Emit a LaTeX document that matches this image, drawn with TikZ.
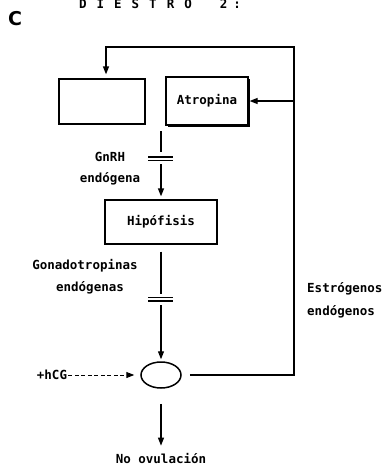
\documentclass[tikz,border=0pt]{standalone}
\usepackage{fontspec}
\setmonofont{DejaVu Sans Mono}
\setsansfont{DejaVu Sans}
\usetikzlibrary{positioning,arrows.meta,calc,shapes.geometric,shadows}

\begin{document}
\begin{tikzpicture}[
  x=1pt, y=-1pt,
  font=\ttfamily\bfseries\fontsize{12.5}{14}\selectfont,
  >={Triangle[length=8pt,width=6pt]},
  box/.style={draw, line width=1.3pt, inner sep=0pt},
  shbox/.style={box, fill=white, drop shadow={shadow xshift=2.2pt, shadow yshift=-2.2pt, fill=black, opacity=1}},
  flow/.style={->, draw, line width=1.3pt},
  cut/.style={draw, line width=1.2pt},
  lbl/.style={inner sep=0pt},
]
\useasboundingbox (0,0) rectangle (385,469);

\node[lbl] (head) at (160,3.5) {D\hspace{10pt}I\hspace{10pt}E\hspace{10pt}S\hspace{10pt}T\hspace{10pt}R\hspace{10pt}O\hspace{28pt}2\hspace{6pt}:};
\node[lbl, font=\sffamily\bfseries\fontsize{19}{20}\selectfont] (letra) at (15,19) {C};

\node[box, minimum width=86pt, minimum height=45pt] (hipot) at (102,101.5) {};
\node[shbox, minimum width=82pt, minimum height=48pt] (atro) at (207,101) {Atropina};
\node[box, minimum width=112pt, minimum height=44pt] (hipo) at (161,222) {Hip\'ofisis};
\node[draw, ellipse, line width=1.5pt, minimum width=40pt, minimum height=26pt, inner sep=0pt] (ov) at (161,375) {};

\node[lbl] (gnrh) at (110,157) {GnRH};
\node[lbl] (gnrh2) at (110,179) {end\'ogena};
\node[lbl] (gona) at (85,266) {Gonadotropinas};
\node[lbl] (gona2) at (90,288) {end\'ogenas};
\node[lbl, anchor=west] (estr) at (307,289) {Estr\'ogenos};
\node[lbl, anchor=west] (estr2) at (307,312) {end\'ogenos};
\node[lbl] (hcg) at (52,375) {+hCG};
\node[lbl] (noov) at (161,459) {No ovulaci\'on};

\coordinate (fbtop) at (294,47);
\coordinate (gnin) at (161,131);

% retroalimentacion de estrogenos
\draw[flow, shorten <=8pt, shorten >=4pt] (ov.east) -| (fbtop) -| ([xshift=4pt]hipot.north);
\draw[flow, shorten >=1pt] (fbtop |- atro.east) -- (atro.east);

% GnRH con corte
\draw[cut] (gnin) -- ++(0,21);
\draw[cut] (148,157) -- (173,157);
\draw[cut] (148,160.5) -- (173,160.5);
\draw[flow, shorten >=3pt] (161,164) -- (hipo.north);

% gonadotropinas con corte
\draw[cut, shorten <=7pt] (hipo.south) -- (161,294);
\draw[cut] (148,297.5) -- (173,297.5);
\draw[cut] (148,301) -- (173,301);
\draw[flow, shorten >=2pt] (161,305) -- (ov.north);

\draw[flow, dashed, dash pattern=on 4pt off 2.5pt, line width=1pt, shorten <=1pt, shorten >=6pt] (hcg.east) -- (ov.west);
\draw[flow, shorten <=15pt, shorten >=8pt] (ov.south) -- (noov.north);
\end{tikzpicture}
\end{document}
